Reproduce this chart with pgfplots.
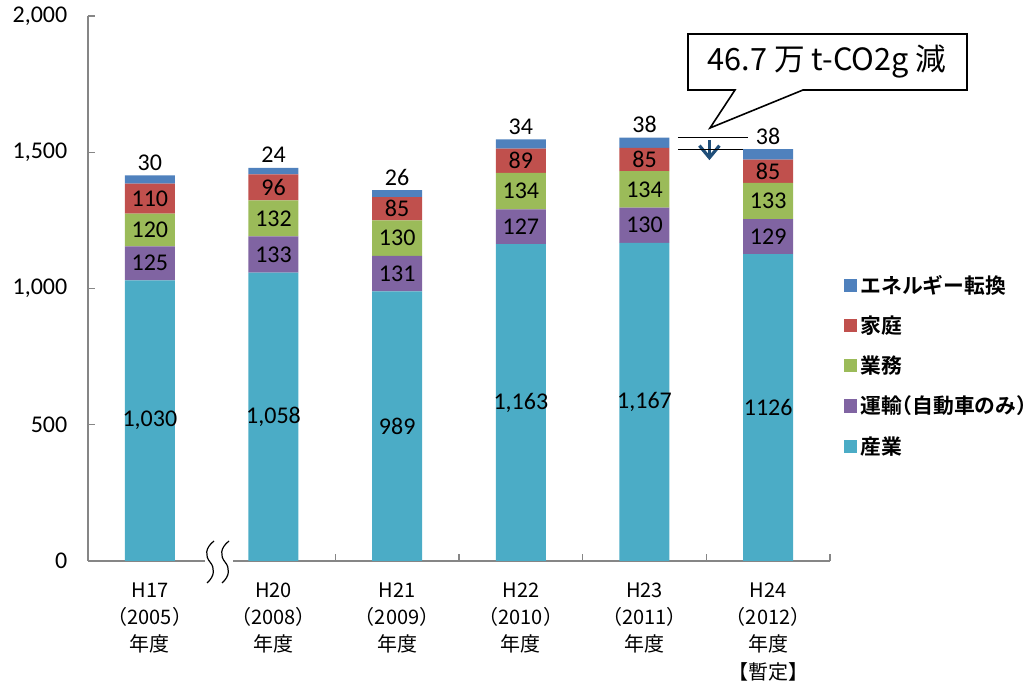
\documentclass[border=0pt]{standalone}
\usepackage{pgfplots}
\pgfplotsset{compat=1.18}
\usepackage{pgfplotstable}
\usetikzlibrary{arrows.meta}
\usepackage{fontspec}
\setmainfont{Carlito}
\newfontfamily\jp{Noto Sans CJK JP}[BoldFont={Noto Sans CJK JP Bold}]
\newfontfamily\jph{Noto Sans CJK JP}[BoldFont={Noto Sans CJK JP Bold}, RawFeature=+halt]

\definecolor{cInd}{HTML}{4BACC6}
\definecolor{cTra}{HTML}{8064A2}
\definecolor{cBus}{HTML}{9BBB59}
\definecolor{cHom}{HTML}{C0504D}
\definecolor{cEne}{HTML}{4F81BD}
\definecolor{axisgray}{HTML}{868686}
\definecolor{arrowblue}{HTML}{1F4E79}

% CO2 emissions by sector (10,000 t-CO2)
\pgfplotstableread{
x ind indlab tra bus hom ene
0 1030 1,030 125 120 110 30
1 1058 1,058 133 132 96 24
2 989 989 131 130 85 26
3 1163 1,163 127 134 89 34
4 1167 1,167 130 134 85 38
5 1126 1126 129 133 85 38
}\emissions

% 1 unit on the y axis = 408.75pt/2000
\def\ptperunit{0.204375}

\begin{document}
\begin{tikzpicture}
% page frame: axis box corner sits 88px from the left, 123px from the bottom
\path[use as bounding box] (-66pt,-92.25pt) rectangle (711pt,420.75pt);
\begin{axis}[
  at={(0pt,0pt)}, anchor=south west,
  scale only axis, width=556.5pt, height=408.75pt,
  ybar stacked, bar width=37.5pt,
  xmin=-0.5, xmax=5.5, ymin=0, ymax=2000,
  axis x line*=bottom, axis y line*=left,
  axis line style={draw=axisgray, line width=0.8pt},
  every tick/.style={draw=axisgray, line width=0.8pt},
  tick align=inside,
  major tick length=5pt, minor tick length=5pt,
  xtick={0,...,5},
  major x tick style={draw=none},
  minor xtick={1.5,2.5,3.5,4.5,5.5},
  xticklabels={{H17\\（2005）\\年度},{H20\\（2008）\\年度},{H21\\（2009）\\年度},
    {H22\\（2010）\\年度},{H23\\（2011）\\年度},{H24\\（2012）\\年度\\【暫定】}},
  x tick label style={font=\jp\fontsize{15}{20.5}\selectfont, align=center,
    anchor=north, yshift=-12.5pt},
  ytick={0,500,1000,1500,2000},
  y tick label style={font=\fontsize{18}{20}\selectfont, xshift=-12pt},
  /pgf/number format/1000 sep={,},
  /pgf/number format/assume math mode=true,
  point meta=explicit symbolic,
  nodes near coords,
  % labels sit at the middle of their segment; \lift moves a label up
  every node near coord/.append style={font=\fontsize{18}{20}\selectfont,
    text=black, anchor=center, yshift=\lift pt},
  visualization depends on={0\as\lift},
  reverse legend,
  legend style={at={(1,0.535)}, anchor=north west, xshift=7pt, draw=none, fill=none,
    font=\jph\bfseries\fontsize{15.6}{18}\selectfont, row sep=11.4pt,
    /tikz/every odd column/.append style={column sep=1pt}},
  legend cell align=left,
  legend image code/.code={\fill[#1,draw=none] (-3pt,-4.9pt) rectangle (6.75pt,4.9pt);},
]
\addplot[fill=cInd, draw=none] table[x=x, y=ind, meta=indlab]{\emissions};
\addplot[fill=cTra, draw=none] table[x=x, y=tra, meta=tra]{\emissions};
\addplot[fill=cBus, draw=none] table[x=x, y=bus, meta=bus]{\emissions};
\addplot[fill=cHom, draw=none] table[x=x, y=hom, meta=hom]{\emissions};
% the top segment carries its label just above the bar
\addplot[fill=cEne, draw=none,
  visualization depends on={\ptperunit*\thisrow{ene}/2+9.5\as\lift}]
  table[x=x, y=ene, meta=ene]{\emissions};
\legend{産業,運輸（自動車のみ）,業務,家庭,エネルギー転換}

% change from H23 to H24
\draw[black, line width=0.6pt] (axis cs:4.27,1554) -- (axis cs:4.84,1554);
\draw[black, line width=0.6pt] (axis cs:4.27,1511) -- (axis cs:4.87,1511);
\draw[arrowblue, line width=2.4pt, -{Straight Barb[length=9pt,width=15pt]}]
  (axis cs:4.525,1545) -- (axis cs:4.525,1471);
\end{axis}

% pixel grid of the page: origin at the bottom-left corner, 1px = 0.75pt
\begin{scope}[shift={(-66pt,-92.25pt)}, x=0.75pt, y=0.75pt]
  % axis break between H17 and H20
  \fill[white] (205,119) rectangle (233,127);
  \foreach \dx in {0,15}{
    \draw[black, line width=0.9pt, xshift=\dx*0.75pt]
      (214,143) .. controls (205,136) and (205,128) .. (210,122)
      .. controls (215,116) and (215,108) .. (207,101);
  }
  % callout
  \draw[black, line width=1.2pt, fill=white, line join=miter]
    (688,650) -- (967,650) -- (967,594) -- (803,594) -- (710,556)
    -- (735,594) -- (688,594) -- cycle;
  \node[font=\jp\fontsize{23}{26}\selectfont, text=black] at (827,622)
    {46.7 万 t-CO2g 減};
\end{scope}
\end{tikzpicture}
\end{document}
